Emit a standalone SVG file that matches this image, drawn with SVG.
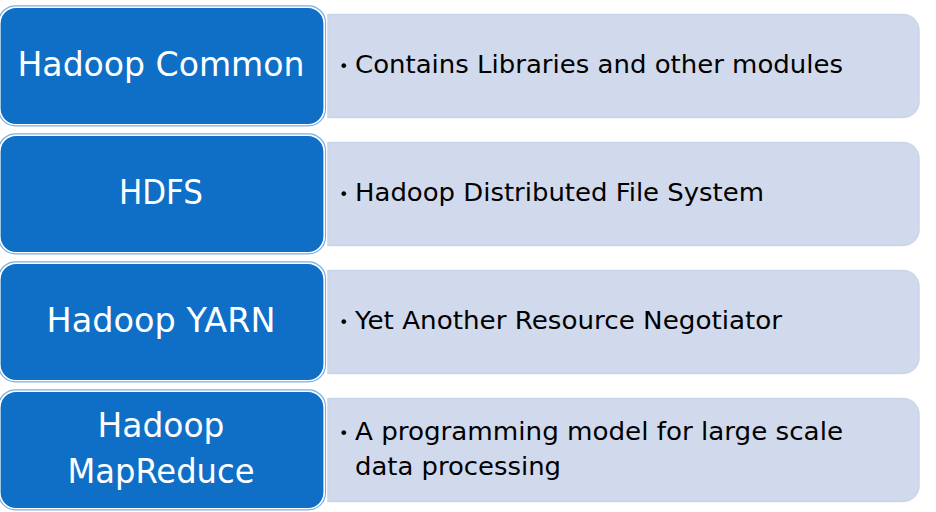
<svg xmlns="http://www.w3.org/2000/svg" width="936" height="512" viewBox="0 0 936 512">
<defs>
<path id="pale" d="M328 0 H903 A16 16 0 0 1 919 16 V87 A16 16 0 0 1 903 103 H328 Z"/>
</defs>
<style>
.outer{fill:none;stroke:#7aaee0;stroke-width:1.2}
.blue{fill:#0F6FC6;stroke:#ffffff;stroke-width:1.2}
.pale{fill:#D1D9EC;stroke:#CBD4EA;stroke-width:1.5}
.lt{font-family:"DejaVu Sans","Liberation Sans",sans-serif;font-size:33px;fill:#ffffff;text-anchor:middle}
.rt{font-family:"DejaVu Sans","Liberation Sans",sans-serif;font-size:24px;fill:#000000}
.bl{font-family:"DejaVu Sans","Liberation Sans",sans-serif;font-size:16px;fill:#000000}
</style>
<rect width="936" height="512" fill="#ffffff"/>
<g id="row1">
<use href="#pale" class="pale" y="14.5"/>
<rect class="outer" x="-1.5" y="5.8" width="327" height="120" rx="17"/>
<rect class="blue" x="0" y="7.5" width="324" height="117" rx="16"/>
<text class="lt" x="161" y="76" textLength="287" lengthAdjust="spacingAndGlyphs">Hadoop Common</text>
<text class="bl" x="339" y="72">•</text>
<text class="rt" x="355" y="73" textLength="488" lengthAdjust="spacingAndGlyphs">Contains Libraries and other modules</text>
</g>
<g id="row2">
<use href="#pale" class="pale" y="142.5"/>
<rect class="outer" x="-1.5" y="133.8" width="327" height="120" rx="17"/>
<rect class="blue" x="0" y="135.5" width="324" height="117" rx="16"/>
<text class="lt" x="161" y="204" textLength="84" lengthAdjust="spacingAndGlyphs">HDFS</text>
<text class="bl" x="339" y="200">•</text>
<text class="rt" x="355" y="201" textLength="409" lengthAdjust="spacingAndGlyphs">Hadoop Distributed File System</text>
</g>
<g id="row3">
<use href="#pale" class="pale" y="270.5"/>
<rect class="outer" x="-1.5" y="261.8" width="327" height="120" rx="17"/>
<rect class="blue" x="0" y="263.5" width="324" height="117" rx="16"/>
<text class="lt" x="161" y="332" textLength="229" lengthAdjust="spacingAndGlyphs">Hadoop YARN</text>
<text class="bl" x="339" y="328">•</text>
<text class="rt" x="355" y="329" textLength="427" lengthAdjust="spacingAndGlyphs">Yet Another Resource Negotiator</text>
</g>
<g id="row4">
<use href="#pale" class="pale" y="398.5"/>
<rect class="outer" x="-1.5" y="389.8" width="327" height="120" rx="17"/>
<rect class="blue" x="0" y="391.5" width="324" height="117" rx="16"/>
<text class="lt" x="161" y="437" textLength="127" lengthAdjust="spacingAndGlyphs">Hadoop</text>
<text class="lt" x="161" y="483" textLength="187" lengthAdjust="spacingAndGlyphs">MapReduce</text>
<text class="bl" x="339" y="439">•</text>
<text class="rt" x="355" y="440" textLength="488" lengthAdjust="spacingAndGlyphs">A programming model for large scale</text>
<text class="rt" x="355" y="475" textLength="206" lengthAdjust="spacingAndGlyphs">data processing</text>
</g>
<g id="connectors"></g>
</svg>
